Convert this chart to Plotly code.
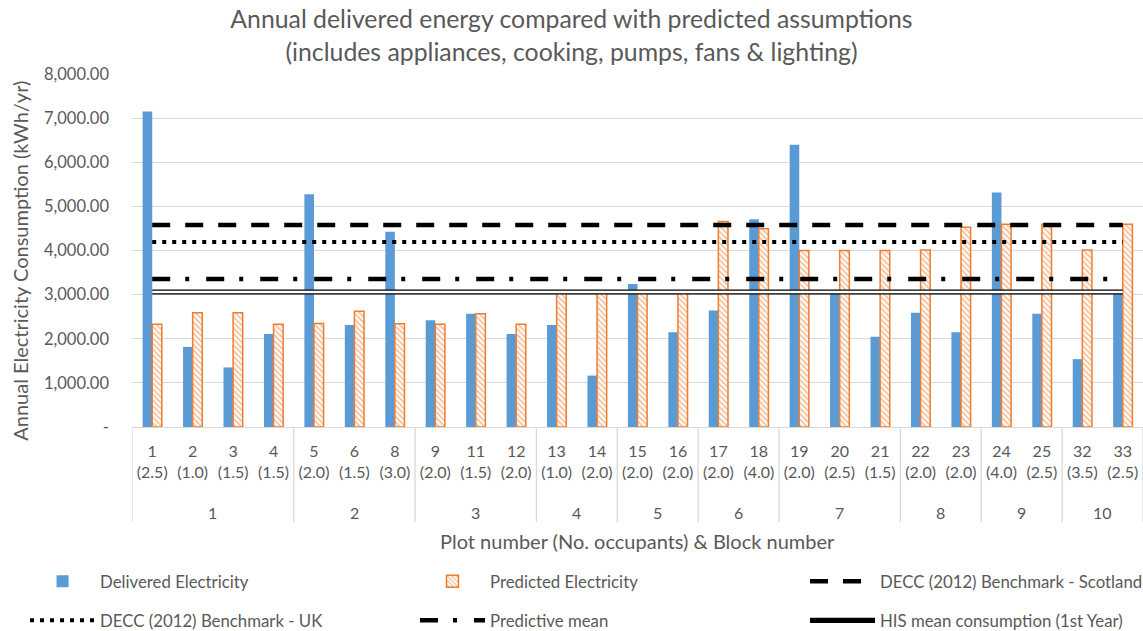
import plotly.graph_objects as go

# ---- data ----
plot_numbers = ["1", "2", "3", "4", "5", "6", "8", "9", "11", "12", "13", "14", "15",
                "16", "17", "18", "19", "20", "21", "22", "23", "24", "25", "32", "33"]
occupants = [2.5, 1.0, 1.5, 1.5, 2.0, 1.5, 3.0, 2.0, 1.5, 2.0, 1.0, 2.0, 2.0,
             2.0, 2.0, 4.0, 2.0, 2.5, 1.5, 2.0, 2.0, 4.0, 2.5, 3.5, 2.5]
blocks = [1, 1, 1, 1, 2, 2, 2, 3, 3, 3, 4, 4, 5, 5, 6, 6, 7, 7, 7, 8, 8, 9, 9, 10, 10]
delivered = [7150, 1815, 1350, 2105, 5275, 2310, 4425, 2420, 2565, 2105, 2310, 1165, 3240,
             2150, 2640, 4708, 6395, 3065, 2045, 2590, 2150, 5312, 2565, 1537, 3100]
predicted = [2330, 2590, 2590, 2330, 2345, 2625, 2340, 2330, 2565, 2330, 3040, 3040, 3040,
             3040, 4655, 4495, 4000, 4000, 4000, 4010, 4525, 4595, 4595, 4010, 4595]
decc_scotland = 4580
decc_uk = 4190
predictive_mean = 3355
his_mean = 3060

y_tickvals = [0, 1000, 2000, 3000, 4000, 5000, 6000, 7000, 8000]
y_ticktext = ["-", "1,000.00", "2,000.00", "3,000.00", "4,000.00", "5,000.00",
              "6,000.00", "7,000.00", "8,000.00"]

FONT = "Lato"
GREY = "#595959"
GRID = "#D9D9D9"

tick_labels = [f"{p}<br>({o:.1f})" for p, o in zip(plot_numbers, occupants)]
n = len(plot_numbers)

fig = go.Figure()
fig.add_trace(go.Bar(x=plot_numbers, y=delivered, name="Delivered Electricity",
                     marker=dict(color="#5B9BD5", line=dict(width=0)),
                     showlegend=True, legend="legend"))
fig.add_trace(go.Bar(x=plot_numbers, y=predicted, name="Predicted Electricity",
                     marker=dict(color="white", line=dict(color="#ED7D31", width=1.5),
                                 pattern=dict(shape="\\", fgcolor="#ED7D31", bgcolor="white",
                                              size=4, solidity=0.45)),
                     showlegend=True, legend="legend2"))
fig.add_trace(go.Scatter(x=plot_numbers, y=[decc_scotland] * n, mode="lines",
                         name="DECC (2012) Benchmark - Scotland", showlegend=True,
                         line=dict(color="black", width=4.5, dash="18px,15px"), legend="legend3"))
fig.add_trace(go.Scatter(x=plot_numbers, y=[decc_uk] * n, mode="lines",
                         name="DECC (2012) Benchmark - UK", showlegend=True,
                         line=dict(color="black", width=4, dash="4px,6px"), legend="legend4"))
fig.add_trace(go.Scatter(x=plot_numbers, y=[predictive_mean] * n, mode="lines",
                         name="Predictive mean", showlegend=True,
                         line=dict(color="black", width=4.5, dash="18px,15px,4px,17px"),
                         legend="legend5"))
fig.add_trace(go.Scatter(x=plot_numbers, y=[his_mean] * n, mode="lines",
                         name="HIS mean consumption (1st Year)", legendgroup="his",
                         showlegend=True,
                         line=dict(color="black", width=5.2), legend="legend6"))
fig.add_trace(go.Scatter(x=plot_numbers, y=[his_mean] * n, mode="lines",
                         name="HIS mean consumption (1st Year)", legendgroup="his",
                         showlegend=False, hoverinfo="skip",
                         line=dict(color="white", width=2.4), legend="legend6"))

# block dividers and block labels
bounds = [-0.5]
for i in range(1, n):
    if blocks[i] != blocks[i - 1]:
        bounds.append(i - 0.5)
bounds.append(n - 0.5)
for b in bounds:
    fig.add_shape(type="line", xref="x", yref="paper", x0=b, x1=b, y0=0, y1=-0.269,
                  line=dict(color=GRID, width=1.3))
for k in range(len(bounds) - 1):
    blk = blocks[int(bounds[k] + 0.5)]
    fig.add_annotation(x=(bounds[k] + bounds[k + 1]) / 2, y=-0.241, xref="x", yref="paper",
                       text=str(blk), showarrow=False, yanchor="middle",
                       font=dict(family=FONT, size=16, color=GREY))

fig.add_annotation(x=0.5, y=-0.324, xref="paper", yref="paper", yanchor="middle",
                   text="Plot number (No. occupants) & Block number", showarrow=False,
                   font=dict(family=FONT, size=20, color=GREY))
fig.add_annotation(x=-0.1108, y=0.471, xref="paper", yref="paper", textangle=-90,
                   xanchor="center", yanchor="middle",
                   text="Annual Electricity Consumption (kWh/yr)", showarrow=False,
                   font=dict(family=FONT, size=20, color=GREY))

legend_common = dict(orientation="h", xanchor="left", yanchor="middle", itemwidth=65,
                     font=dict(family=FONT, size=16.8, color=GREY), bgcolor="rgba(0,0,0,0)",
                     visible=True)
col_x = [-0.1058, 0.2799, 0.6657]
row_y = [-0.437, -0.548]

fig.update_layout(
    width=1143, height=631, showlegend=True,
    margin=dict(l=132, r=0, t=74, b=204, autoexpand=False),
    paper_bgcolor="white", plot_bgcolor="white",
    barmode="group", bargap=0.525, bargroupgap=0,
    title=dict(text="Annual delivered energy compared with predicted assumptions<br>"
                    "(includes appliances, cooking, pumps, fans & lighting)",
               x=0.5, xanchor="center", y=0.955, yanchor="top",
               font=dict(family=FONT, size=24.8, color=GREY)),
    font=dict(family=FONT, color=GREY),
    xaxis=dict(type="category", tickmode="array", tickvals=plot_numbers, ticktext=tick_labels,
               tickfont=dict(family=FONT, size=16, color=GREY), showgrid=False,
               showline=True, linecolor=GRID, linewidth=1.3, ticks="",
               ticklabelstandoff=10, range=[-0.5, n - 0.5], automargin=False),
    yaxis=dict(range=[0, 8000], tickvals=y_tickvals, ticktext=y_ticktext,
               tickfont=dict(family=FONT, size=16.5, color=GREY), showgrid=True,
               gridcolor=GRID, gridwidth=1.3, zeroline=False, ticks="",
               ticklabelstandoff=22, automargin=False),
    legend=dict(x=col_x[0], y=row_y[0], **legend_common),
    legend2=dict(x=col_x[1], y=row_y[0], **legend_common),
    legend3=dict(x=col_x[2], y=row_y[0], **legend_common),
    legend4=dict(x=col_x[0], y=row_y[1], **legend_common),
    legend5=dict(x=col_x[1], y=row_y[1], **legend_common),
    legend6=dict(x=col_x[2], y=row_y[1], **legend_common),
)

fig.write_html("out.html", config={"displayModeBar": False},
               post_script="document.body.style.margin='0px';")
